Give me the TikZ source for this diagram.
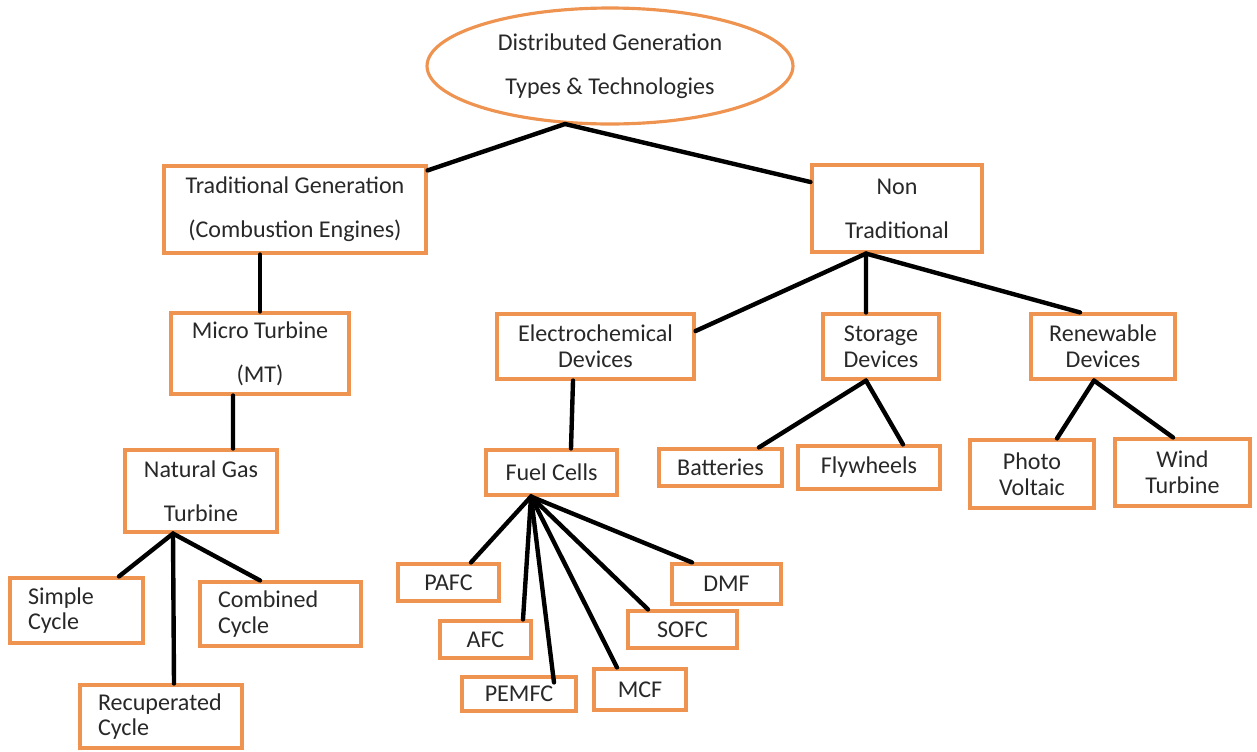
\documentclass[tikz,border=0pt]{standalone}
\usepackage{fontspec}
\setmainfont{Carlito}
\usepackage{xcolor}
\usepackage{tikz}
\usetikzlibrary{shapes.geometric}
\definecolor{boxorange}{RGB}{238,148,80}
\definecolor{textgray}{RGB}{40,40,40}

\begin{document}
\begin{tikzpicture}[x=0.02cm, y=-0.02cm,
    box/.style={draw=boxorange, line width=1.8pt, inner sep=0pt, align=center, text=textgray,
        font=\fontsize{13.7}{14.7}\selectfont},
    leftbox/.style={box, align=left, inner xsep=0.36cm},
    link/.style={line width=2.5pt, line cap=round}]
    \useasboundingbox (0,0) rectangle (1257,751);

    \draw (610,66) node (nodeDG) [box, ellipse, minimum width=7.32cm, minimum height=2.32cm] {Distributed Generation\\[10.3pt]Types \& Technologies};
    \draw (295,209.5) node (nodeTrad) [box, minimum width=5.24cm, minimum height=1.74cm] {Traditional Generation\\[10.3pt](Combustion Engines)};
    \draw (897,208.5) node (nodeNon) [box, minimum width=3.4cm, minimum height=1.74cm] {Non\\[10.3pt]Traditional};
    \draw (260,353.5) node (nodeMicro) [box, minimum width=3.56cm, minimum height=1.62cm] {Micro Turbine\\[10.3pt](MT)};
    \draw (201,491) node (nodeGas) [box, minimum width=3.04cm, minimum height=1.64cm] {Natural Gas\\[10.3pt]Turbine};
    \draw (76.5,610.5) node (nodeSimple) [leftbox, text width=1.94cm, minimum height=1.3cm] {Simple\\Cycle};
    \draw (280.5,614) node (nodeComb) [leftbox, text width=2.5cm, minimum height=1.28cm] {Combined\\Cycle};
    \draw (161,716.5) node (nodeRecup) [leftbox, text width=2.52cm, minimum height=1.26cm] {Recuperated\\Cycle};

    \draw (595.5,346.5) node (nodeElec) [box, minimum width=3.94cm, minimum height=1.3cm] {Electrochemical\\Devices};
    \draw (881,346.5) node (nodeStor) [box, minimum width=2.32cm, minimum height=1.3cm] {Storage\\Devices};
    \draw (1103,346.5) node (nodeRenew) [box, minimum width=2.88cm, minimum height=1.3cm] {Renewable\\Devices};
    \draw (551.5,472.5) node (nodeFuel) [box, minimum width=2.62cm, minimum height=0.9cm] {Fuel Cells};
    \draw (720.5,467.5) node (nodeBatt) [box, minimum width=2.46cm, minimum height=0.74cm] {Batteries};
    \draw (869,467.5) node (nodeFly) [box, minimum width=2.84cm, minimum height=0.86cm] {Flywheels};
    \draw (1032,474) node (nodePhoto) [box, minimum width=2.48cm, minimum height=1.36cm] {Photo\\Voltaic};
    \draw (1182.5,472.5) node (nodeWind) [box, minimum width=2.7cm, minimum height=1.34cm] {Wind\\Turbine};

    \draw (448.5,582.5) node (nodePAFC) [box, minimum width=2.02cm, minimum height=0.74cm] {PAFC};
    \draw (485.5,639.5) node (nodeAFC) [box, minimum width=1.82cm, minimum height=0.74cm] {AFC};
    \draw (519,694) node (nodePEMFC) [box, minimum width=2.28cm, minimum height=0.68cm] {PEMFC};
    \draw (640,689.5) node (nodeMCF) [box, minimum width=1.84cm, minimum height=0.82cm] {MCF};
    \draw (682.5,629.5) node (nodeSOFC) [box, minimum width=2.18cm, minimum height=0.74cm] {SOFC};
    \draw (726.5,584) node (nodeDMF) [box, minimum width=2.18cm, minimum height=0.8cm] {DMF};

    \coordinate (hubDG) at (565,124);
    \coordinate (hubGas) at ([xshift=-0.56cm]nodeGas.south);
    \coordinate (hubNon) at ([xshift=-0.62cm]nodeNon.south);
    \coordinate (hubStor) at ([xshift=-0.3cm]nodeStor.south);
    \coordinate (hubRenew) at ([xshift=-0.18cm]nodeRenew.south);
    \coordinate (hubFuel) at ([xshift=-0.41cm]nodeFuel.south);

    \draw[link] (hubDG) -- ([yshift=-0.12cm]nodeTrad.north east);
    \draw[link] (hubDG) -- ([yshift=0.53cm]nodeNon.west);
    \draw[link] (nodeMicro.north |- nodeTrad.south) -- (nodeMicro.north);
    \draw[link] ([xshift=-0.54cm]nodeMicro.south) -- ([xshift=0.64cm]nodeGas.north);

    \draw[link] (hubGas) -- ([xshift=0.85cm]nodeSimple.north);
    \draw[link] (hubGas) -- ([xshift=0.26cm]nodeRecup.north);
    \draw[link] (hubGas) -- ([xshift=-0.41cm]nodeComb.north);

    \draw[link] (hubNon) -- ([yshift=0.31cm]nodeElec.east);
    \draw[link] (hubNon) -- ([xshift=-0.3cm]nodeStor.north);
    \draw[link] (hubNon) -- ([xshift=-0.46cm]nodeRenew.north);
    \draw[link] ([xshift=-0.45cm]nodeElec.south) -- ([xshift=0.39cm]nodeFuel.north);

    \draw[link] (hubStor) -- ([xshift=0.77cm]nodeBatt.north);
    \draw[link] (hubStor) -- ([xshift=0.68cm]nodeFly.north);
    \draw[link] (hubRenew) -- ([xshift=0.5cm]nodePhoto.north);
    \draw[link] (hubRenew) -- ([xshift=-0.19cm]nodeWind.north);

    \draw[link] (hubFuel) -- ([xshift=0.45cm]nodePAFC.north);
    \draw[link] (hubFuel) -- ([xshift=0.75cm]nodeAFC.north);
    \draw[link] (hubFuel) -- ([xshift=0.7cm,yshift=-0.14cm]nodePEMFC.north);
    \draw[link] (hubFuel) -- ([xshift=-0.46cm]nodeMCF.north);
    \draw[link] (hubFuel) -- ([xshift=-0.69cm]nodeSOFC.north);
    \draw[link] (hubFuel) -- ([xshift=-0.69cm]nodeDMF.north);
\end{tikzpicture}
\end{document}
